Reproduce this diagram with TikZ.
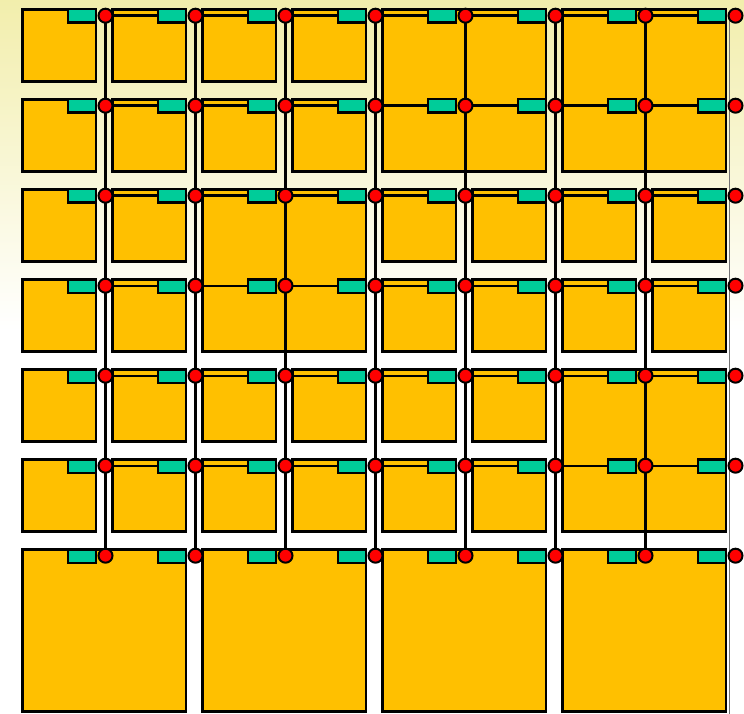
\documentclass[tikz,border=0pt]{standalone}
\definecolor{tileO}{RGB}{255,192,0}
\definecolor{swG}{RGB}{0,204,153}
\definecolor{bgY}{RGB}{242,238,172}
\pgfdeclarelayer{bg}
\pgfdeclarelayer{wires}
\pgfsetlayers{bg,wires,main}
\tikzset{
  tile/.style={draw=black, line width=2.8pt, fill=tileO},
  sw/.style={draw=black, line width=2.4pt, fill=swG, minimum width=28.2pt, minimum height=13.4pt, inner sep=0pt, outer sep=0pt, anchor=north east},
  dot/.style={circle, draw=black, line width=2pt, fill=red, minimum size=14pt, inner sep=0pt},
  wire/.style={draw=black, line width=2.4pt},
  greywire/.style={draw=black!55, line width=1.6pt}
}
\begin{document}
\begin{tikzpicture}[x=1pt,y=-1pt]
\useasboundingbox (0,0) rectangle (744,714);
% switch boxes and connection points
\foreach \j in {0,...,6}{
  \foreach \i in {0,...,7}{
    \pgfmathsetmacro\R{96+90*\i}
    \pgfmathsetmacro\T{9.3+90*\j}
    \node[sw] (g-\i-\j) at (\R,\T) {};
    \node[dot] (c-\i-\j) at (\R+9.5,\T+6.4) {};
  }
}
\coordinate (rt) at (729.5,15.7);
\coordinate (rb) at (729.5,714);
\begin{pgfonlayer}{bg}
  \fill[white] (0,0) rectangle (744,714);
  \shade[top color=bgY, bottom color=white] (0,0) rectangle (744,330);
  % single tiles
  \foreach \i/\j in {0/0,1/0,2/0,3/0,0/1,1/1,2/1,3/1,
                     0/2,1/2,4/2,5/2,6/2,7/2,0/3,1/3,4/3,5/3,6/3,7/3,
                     0/4,1/4,2/4,3/4,4/4,5/4,0/5,1/5,2/5,3/5,4/5,5/5}{
    \draw[tile] (22.7+90*\i,9.4+90*\j) rectangle (95.9+90*\i,81.6+90*\j);
  }
  % double tiles (2x2)
  \foreach \i/\j in {4/0,6/0,2/2,6/4,0/6,2/6,4/6,6/6}{
    \draw[tile] (22.7+90*\i,9.4+90*\j) rectangle (185.9+90*\i,171.6+90*\j);
  }
\end{pgfonlayer}
\begin{pgfonlayer}{wires}
  \foreach \j in {0,...,5}{
    \foreach \i [evaluate=\i as \n using int(\i+1)] in {0,...,6}{
      \draw[wire] (c-\i-\j.center) -- (c-\i-\j.center -| g-\n-\j.west);
    }
  }
  \foreach \i in {0,...,6}{
    \draw[wire] (c-\i-0.center) -- (c-\i-6.center);
  }
  \draw[greywire] (rt) -- (rb);
\end{pgfonlayer}
\end{tikzpicture}
\end{document}
